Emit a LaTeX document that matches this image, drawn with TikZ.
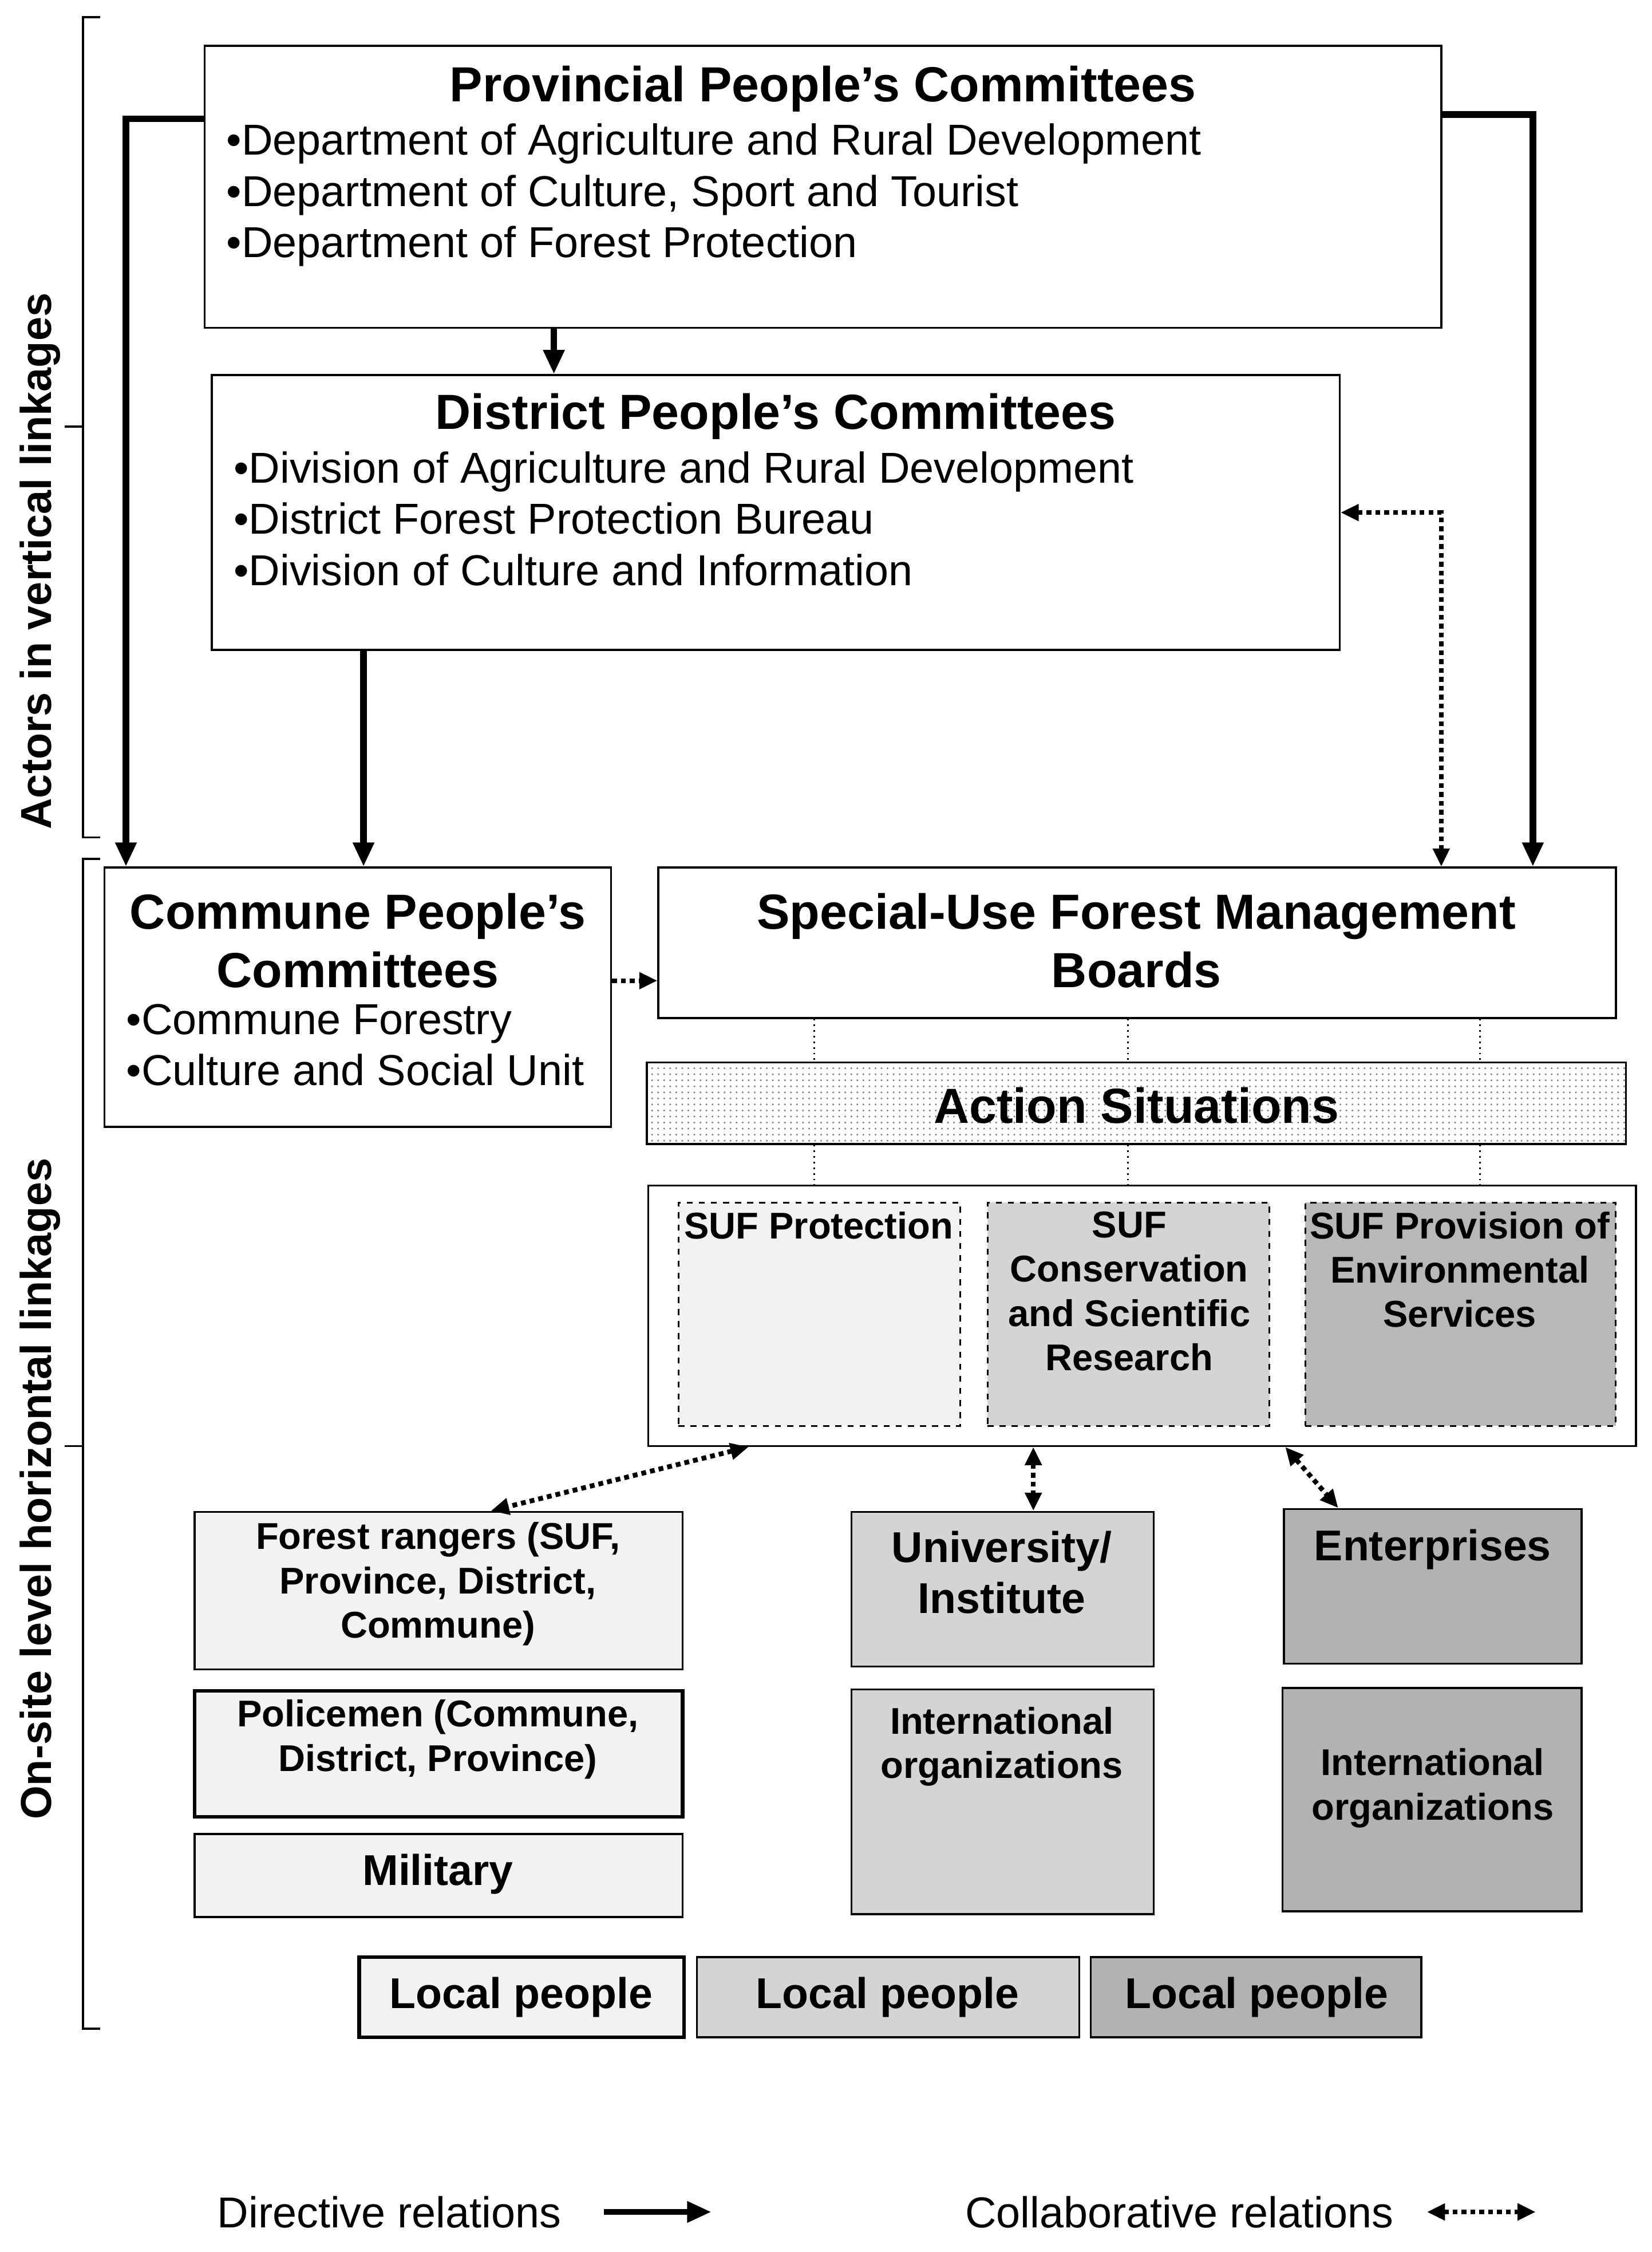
\documentclass[tikz,border=0pt]{standalone}
\usepackage{fontspec}
\setmainfont{Liberation Sans}
\usetikzlibrary{arrows.meta,patterns}
\newcommand\boxat[6]{\node[#1,inner sep=0pt,minimum width={(#5-#3)*0.025cm},minimum height={(#6-#4)*0.025cm}] (#2) at ({(#3+#5)/2},{(#4+#6)/2}) {};}
\tikzset{
 bx/.style={draw,line width=1pt},
 bxt/.style={draw,line width=1.8pt},
 inner/.style={draw,dashed,line width=0.8pt},
 dir/.style={line width=3.3pt,-{Triangle[length=12pt,width=10pt]}},
 col/.style={line width=2.4pt,dotted,{Triangle[length=9pt,width=8pt]}-{Triangle[length=9pt,width=8pt]}},
 colone/.style={line width=2.4pt,dotted,-{Triangle[length=9pt,width=8pt]}},
 ttl/.style={font=\fontsize{24.5}{29}\selectfont\bfseries,align=center,inner sep=0pt},
 bul/.style={font=\fontsize{21.5}{25.5}\selectfont,align=left,anchor=north west,inner sep=0pt},
 sm/.style={font=\fontsize{18.5}{22}\selectfont\bfseries,align=center,inner sep=0pt},
 md/.style={font=\fontsize{21.4}{25.5}\selectfont\bfseries,align=center,inner sep=0pt},
 side/.style={font=\fontsize{21.5}{24}\selectfont\bfseries,rotate=90,inner sep=0pt}
}
\begin{document}
\begin{tikzpicture}[x=0.025cm,y=-0.025cm]
\useasboundingbox (0,0) rectangle (1154,1573);
% brackets
\draw[line width=1pt] (70,12) -- (58,12) -- (58,585) -- (70,585) (45,298) -- (58,298);
\draw[line width=1pt] (70,600) -- (58,600) -- (58,1417) -- (70,1417) (45,1010) -- (58,1010);
\node[side] (lab1) at (28,392) {Actors in vertical linkages};
\node[side] (lab2) at (28,1040) {On-site level horizontal linkages};
% provincial
\boxat{bx}{prov}{143}{32}{1007}{229}
\node[ttl] (provt) at (575,62) {Provincial People’s Committees};
\node[bul] (provb) at (158,86) {•Department of Agriculture and Rural Development\\•Department of Culture, Sport and Tourist\\•Department of Forest Protection};
% district
\boxat{bx}{dist}{148}{262}{936}{454}
\node[ttl] (distt) at (542,291) {District People’s Committees};
\node[bul] (distb) at (163,315) {•Division of Agriculture and Rural Development\\•District Forest Protection Bureau\\•Division of Culture and Information};
% commune
\boxat{bx}{comm}{73}{606}{427}{787}
\node[ttl] (commt) at (250,657) {Commune People’s\\Committees};
\node[bul] (commb) at (88,701) {•Commune Forestry\\•Culture and Social Unit};
% SUF boards
\boxat{bx}{suf}{460}{606}{1129}{711}
\node[ttl] (suft) at (794,657) {Special-Use Forest Management\\Boards};
% action situations
\fill[white] (452,742) rectangle (1136,799);
\fill[pattern=dots,pattern color=gray] (452,742) rectangle (1136,799);
\boxat{bx}{act}{452}{742}{1136}{799}
\node[ttl] (actt) at (794,772) {Action Situations};
% container
\boxat{bx}{cont}{453}{828}{1143}{1010}
\boxat{inner,fill=black!5}{in1}{474}{840}{671}{996}
\boxat{inner,fill=black!17}{in2}{690}{840}{887}{996}
\boxat{inner,fill=black!28}{in3}{912}{840}{1129}{996}
\node[sm,anchor=north] (in1t) at (572,846) {SUF Protection};
\node[sm,anchor=north] (in2t) at (789,846) {SUF\\Conservation\\and Scientific\\Research};
\node[sm,anchor=north] (in3t) at (1020,846) {SUF Provision of\\Environmental\\Services};
\foreach \x in {569,788,1034}{
 \draw[dotted,line width=0.8pt] (suf.south -| \x,0) -- (act.north -| \x,0);
 \draw[dotted,line width=0.8pt] (act.south -| \x,0) -- (cont.north -| \x,0);}
% bottom boxes
\boxat{bx,fill=black!5}{fr}{136}{1056}{477}{1166}
\node[sm,anchor=north] (frt) at (306,1063) {Forest rangers (SUF,\\Province, District,\\Commune)};
\boxat{bxt,fill=black!5}{pol}{136}{1181}{477}{1269}
\node[sm,anchor=north] (polt) at (306,1187) {Policemen (Commune,\\District, Province)};
\boxat{bx,fill=black!5}{mil}{136}{1281}{477}{1339}
\node[md] (milt) at (306,1309) {Military};
\boxat{bx,fill=black!17}{uni}{595}{1056}{806}{1164}
\node[md,anchor=north] (unit) at (700,1069) {University/\\Institute};
\boxat{bx,fill=black!17}{io1}{595}{1180}{806}{1337}
\node[sm,anchor=north] (io1t) at (700,1192) {International\\organizations};
\boxat{bx,fill=black!30}{ent}{897}{1054}{1105}{1162}
\node[md,anchor=north] (entt) at (1001,1068) {Enterprises};
\boxat{bx,fill=black!30}{io2}{896}{1179}{1105}{1335}
\node[sm,anchor=north] (io2t) at (1001,1221) {International\\organizations};
\boxat{bxt,fill=black!5}{lp1}{251}{1367}{478}{1423}
\boxat{bx,fill=black!17}{lp2}{487}{1367}{754}{1423}
\boxat{bx,fill=black!30}{lp3}{762}{1367}{993}{1423}
\node[md] (lp1t) at (364,1395) {Local people};
\node[md] (lp2t) at (620,1395) {Local people};
\node[md] (lp3t) at (878,1395) {Local people};
% directive arrows
\draw[dir] (prov.south -| 387,0) -- (dist.north -| 387,0);
\draw[dir] (prov.west |- 0,83) -| (comm.north -| 88,0);
\draw[dir] (prov.east |- 0,80) -| (suf.north -| 1071,0);
\draw[dir] (dist.south -| 254,0) -- (comm.north -| 254,0);
% collaborative
\draw[col] (dist.east |- 0,358) -| (suf.north -| 1007,0);
\draw[colone] (comm.east |- 0,685) -- (suf.west |- 0,685);
\draw[col] (cont.south -| 523,0) -- (fr.north -| 343,0);
\draw[col] (cont.south -| 722,0) -- (uni.north -| 722,0);
\draw[col] (cont.south -| 898,0) -- (ent.north -| 935,0);
% legend
\node[font=\fontsize{21.5}{24}\selectfont] (leg1) at (272,1545) {Directive relations};
\coordinate (l1a) at (422,1545); \coordinate (l1b) at (497,1545);
\draw[dir,line width=2.8pt] (l1a) -- (l1b);
\node[font=\fontsize{21.5}{24}\selectfont] (leg2) at (824,1545) {Collaborative relations};
\coordinate (l2a) at (997,1545); \coordinate (l2b) at (1073,1545);
\draw[col] (l2a) -- (l2b);
\end{tikzpicture}
\end{document}
